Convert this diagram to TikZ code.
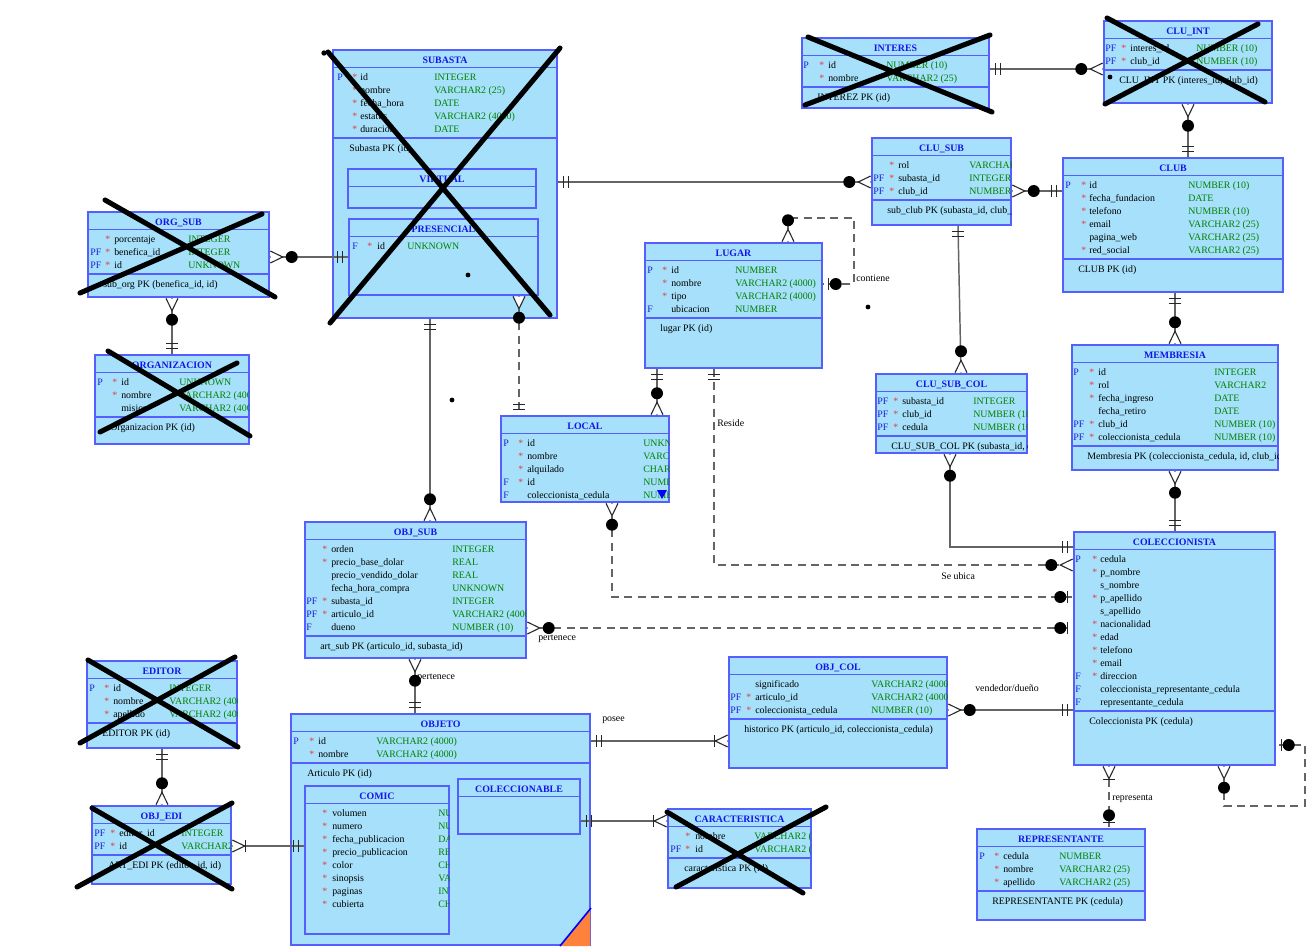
\documentclass[tikz,border=0pt]{standalone}
\usepackage{fontspec}
\setmainfont{Liberation Serif}
\usetikzlibrary{fit,calc}
\definecolor{tfill}{RGB}{166,224,250}
\definecolor{tedge}{RGB}{85,95,255}
\definecolor{ttlc}{RGB}{20,20,235}
\definecolor{flgc}{RGB}{30,30,220}
\definecolor{typc}{RGB}{0,130,0}
\definecolor{strc}{RGB}{235,60,60}
\definecolor{conc}{RGB}{100,100,100}
\definecolor{orng}{RGB}{255,130,60}
\tikzset{
 tbl/.style={draw=tedge, fill=tfill, line width=1.1pt, inner sep=0pt},
 tsep/.style={draw=tedge, line width=1.1pt},
 basetxt/.style={inner sep=0pt, anchor=base west, font=\fontsize{7.4}{8}\selectfont},
 txt/.style={basetxt, text=black},
 flg/.style={basetxt, text=flgc},
 typ/.style={basetxt, text=typc},
 strn/.style={basetxt, text=strc},
 ttl/.style={inner sep=0pt, anchor=base, font=\fontsize{7.4}{8}\selectfont\bfseries, text=ttlc},
 lbl/.style={inner sep=0pt, anchor=west, font=\fontsize{7.4}{8}\selectfont},
 conn/.style={draw=conc, line width=1.1pt},
 dconn/.style={conn, dash pattern=on 6pt off 4pt},
 deco/.style={draw=black!85, line width=0.8pt},
 xmark/.style={draw=black, line width=3.8pt, line cap=round},
 pics/crow/.style={code={\fill[white] (0.8,-5.5)--(13,0)--(0.8,5.5)--cycle; \draw[deco] (0.6,-6)--(13,0)--(0.6,6);}},
 pics/dbar/.style={code={\draw[deco] (6,-6)--(6,6) (11,-6)--(11,6);}},
 pics/sbar/.style={code={\draw[deco] (#1,-6)--(#1,6);}},
 pics/odot/.style={code={\fill[black] (#1,0) circle[radius=4.5pt];}},
}
\newcount\rowc
\newcommand\tCols[4]{\def\cF{#1}\def\cS{#2}\def\cN{#3}\def\cT{#4}}
\newcommand\tSub[6]{%
  \node[tbl, fit={(#2,#3) (#4,#5)}] (#1) {};
  \def\tY{#3}\global\rowc=0
  \begin{scope}
  \clip (#2,#3) rectangle (#4,#5);
  \draw[tsep] (#2,#3+17.5) -- (#4,#3+17.5);
  \node[ttl] at ({(#2+#4)/2},#3+13.8) {#6};
}
\newcommand\tTbl[8]{%
  \tSub{#1}{#2}{#3}{#4}{#5}{#6}%
  \draw[tsep] (#2,#3+23+13*#7) -- (#4,#3+23+13*#7);
  \node[txt] at (\cN-11,#3+36.3+13*#7) {#8};
}
\newcommand\tEnd{\end{scope}}
\newcommand\tRow[4]{%
  \global\advance\rowc by 1
  \pgfmathsetmacro\ry{\tY+30.3+13*(\the\rowc-1)}%
  \node[flg] at (\cF,\ry) {#1};
  \node[strn] at (\cS,\ry) {#2};
  \node[txt] at (\cN,\ry) {#3};
  \node[typ] at (\cT,\ry) {#4};
}
\newcommand\eCF[2]{\path #1 pic[rotate=#2]{crow}; \path #1 pic[rotate=#2]{odot=22};}
\newcommand\eDB[2]{\path #1 pic[rotate=#2]{dbar};}
\newcommand\eCB[2]{\path #1 pic[rotate=#2]{crow}; \path #1 pic[rotate=#2]{sbar=13.5};}
\newcommand\eOB[2]{\path #1 pic[rotate=#2]{sbar=6}; \path #1 pic[rotate=#2]{odot=13};}
\begin{document}
\begin{tikzpicture}[x=0.75pt,y=-0.75pt]
\fill[white] (0,0) rectangle (1308,946);
\useasboundingbox (0,0) rectangle (1308,946);

% SUBASTA
\tCols{337}{352}{360}{434}
\tTbl{subasta}{333}{50}{557}{318}{SUBASTA}{5}{Subasta PK (id)}
\tRow{P}{*}{id}{INTEGER}
\tRow{}{*}{nombre}{VARCHAR2 (25)}
\tRow{}{*}{fecha\_hora}{DATE}
\tRow{}{*}{estatus}{VARCHAR2 (4000)}
\tRow{}{*}{duracion}{DATE}
\tEnd
\tSub{virtual}{348}{169}{536}{208}{VIRTUAL}
\tEnd
\tCols{352}{367}{377}{407}
\tSub{presencial}{349}{219}{538}{295}{PRESENCIAL}
\tRow{F}{*}{id}{UNKNOWN}
\tEnd

% INTERES
\tCols{803}{819}{828}{886}
\tTbl{interes}{802}{38}{989}{108}{INTERES}{2}{INTEREZ PK (id)}
\tRow{P}{*}{id}{NUMBER (10)}
\tRow{}{*}{nombre}{VARCHAR2 (25)}
\tEnd

% CLU_INT
\tCols{1105}{1121}{1130}{1196}
\tTbl{cluint}{1104}{21}{1272}{103}{CLU\_INT}{2}{CLU\_INT PK (interes\_id, club\_id)}
\tRow{PF}{*}{interes\_id}{NUMBER (10)}
\tRow{PF}{*}{club\_id}{NUMBER (10)}
\tEnd

% CLU_SUB
\tCols{873}{889}{898}{969}
\tTbl{clusub}{872}{138}{1011}{225}{CLU\_SUB}{3}{sub\_club PK (subasta\_id, club\_id)}
\tRow{}{*}{rol}{VARCHAR2 (25)}
\tRow{PF}{*}{subasta\_id}{INTEGER}
\tRow{PF}{*}{club\_id}{NUMBER (10)}
\tEnd

% CLUB
\tCols{1065}{1081}{1089}{1188}
\tTbl{club}{1063}{158}{1283}{292}{CLUB}{6}{CLUB PK (id)}
\tRow{P}{*}{id}{NUMBER (10)}
\tRow{}{*}{fecha\_fundacion}{DATE}
\tRow{}{*}{telefono}{NUMBER (10)}
\tRow{}{*}{email}{VARCHAR2 (25)}
\tRow{}{}{pagina\_web}{VARCHAR2 (25)}
\tRow{}{*}{red\_social}{VARCHAR2 (25)}
\tEnd

% ORG_SUB
\tCols{90}{105}{114}{188}
\tTbl{orgsub}{88}{212}{269}{297}{ORG\_SUB}{3}{sub\_org PK (benefica\_id, id)}
\tRow{}{*}{porcentaje}{INTEGER}
\tRow{PF}{*}{benefica\_id}{INTEGER}
\tRow{PF}{*}{id}{UNKNOWN}
\tEnd

% ORGANIZACION
\tCols{97}{112}{121}{179}
\tTbl{organizacion}{95}{355}{249}{444}{ORGANIZACION}{3}{Organizacion PK (id)}
\tRow{P}{*}{id}{UNKNOWN}
\tRow{}{*}{nombre}{VARCHAR2 (4000)}
\tRow{}{}{mision}{VARCHAR2 (4000)}
\tEnd

% LUGAR
\tCols{647}{662}{671}{735}
\tTbl{lugar}{645}{243}{822}{368}{LUGAR}{4}{lugar PK (id)}
\tRow{P}{*}{id}{NUMBER}
\tRow{}{*}{nombre}{VARCHAR2 (4000)}
\tRow{}{*}{tipo}{VARCHAR2 (4000)}
\tRow{F}{}{ubicacion}{NUMBER}
\tEnd

% LOCAL
\tCols{503}{518}{527}{643}
\tSub{local}{501}{416}{669}{502}{LOCAL}
\tRow{P}{*}{id}{UNKNOWN}
\tRow{}{*}{nombre}{VARCHAR2 (4000)}
\tRow{}{*}{alquilado}{CHAR (1)}
\tRow{F}{*}{id}{NUMBER}
\tRow{F}{}{coleccionista\_cedula}{NUMBER (10)}
\fill[blue] (657,490) -- (667,490) -- (662,499) -- cycle;
\tEnd

% CLU_SUB_COL
\tCols{877}{893}{902}{973}
\tTbl{clusubcol}{876}{374}{1027}{453}{CLU\_SUB\_COL}{3}{CLU\_SUB\_COL PK (subasta\_id, club\_id, cedula)}
\tRow{PF}{*}{subasta\_id}{INTEGER}
\tRow{PF}{*}{club\_id}{NUMBER (10)}
\tRow{PF}{*}{cedula}{NUMBER (10)}
\tEnd

% MEMBRESIA
\tCols{1073}{1089}{1098}{1214}
\tTbl{membresia}{1072}{345}{1278}{470}{MEMBRESIA}{6}{Membresia PK (coleccionista\_cedula, id, club\_id)}
\tRow{P}{*}{id}{INTEGER}
\tRow{}{*}{rol}{VARCHAR2}
\tRow{}{*}{fecha\_ingreso}{DATE}
\tRow{}{}{fecha\_retiro}{DATE}
\tRow{PF}{*}{club\_id}{NUMBER (10)}
\tRow{PF}{*}{coleccionista\_cedula}{NUMBER (10)}
\tEnd

% OBJ_SUB
\tCols{306}{322}{331}{452}
\tTbl{objsub}{305}{522}{526}{658}{OBJ\_SUB}{7}{art\_sub PK (articulo\_id, subasta\_id)}
\tRow{}{*}{orden}{INTEGER}
\tRow{}{*}{precio\_base\_dolar}{REAL}
\tRow{}{}{precio\_vendido\_dolar}{REAL}
\tRow{}{}{fecha\_hora\_compra}{UNKNOWN}
\tRow{PF}{*}{subasta\_id}{INTEGER}
\tRow{PF}{*}{articulo\_id}{VARCHAR2 (4000)}
\tRow{F}{}{dueno}{NUMBER (10)}
\tEnd

% COLECCIONISTA
\tCols{1075}{1092}{1100}{1300}
\tTbl{coleccionista}{1074}{532}{1275}{765}{COLECCIONISTA}{12}{Coleccionista PK (cedula)}
\tRow{P}{*}{cedula}{}
\tRow{}{*}{p\_nombre}{}
\tRow{}{}{s\_nombre}{}
\tRow{}{*}{p\_apellido}{}
\tRow{}{}{s\_apellido}{}
\tRow{}{*}{nacionalidad}{}
\tRow{}{*}{edad}{}
\tRow{}{*}{telefono}{}
\tRow{}{*}{email}{}
\tRow{F}{*}{direccion}{}
\tRow{F}{}{coleccionista\_representante\_cedula}{}
\tRow{F}{}{representante\_cedula}{}
\tEnd

% OBJ_COL
\tCols{730}{746}{755}{871}
\tTbl{objcol}{729}{657}{947}{768}{OBJ\_COL}{3}{historico PK (articulo\_id, coleccionista\_cedula)}
\tRow{}{}{significado}{VARCHAR2 (4000)}
\tRow{PF}{*}{articulo\_id}{VARCHAR2 (4000)}
\tRow{PF}{*}{coleccionista\_cedula}{NUMBER (10)}
\tEnd

% EDITOR
\tCols{89}{104}{113}{169}
\tTbl{editor}{87}{661}{237}{748}{EDITOR}{3}{EDITOR PK (id)}
\tRow{P}{*}{id}{INTEGER}
\tRow{}{*}{nombre}{VARCHAR2 (4000)}
\tRow{}{*}{apellido}{VARCHAR2 (4000)}
\tEnd

% OBJ_EDI
\tCols{94}{110}{119}{181}
\tTbl{objedi}{92}{806}{231}{884}{OBJ\_EDI}{2}{ART\_EDI PK (editor\_id, id)}
\tRow{PF}{*}{editor\_id}{INTEGER}
\tRow{PF}{*}{id}{VARCHAR2 (4000)}
\tEnd

% OBJETO
\tCols{293}{309}{318}{376}
\tTbl{objeto}{291}{714}{590}{945}{OBJETO}{2}{Articulo PK (id)}
\tRow{P}{*}{id}{VARCHAR2 (4000)}
\tRow{}{*}{nombre}{VARCHAR2 (4000)}
\tEnd
\fill[orng] (560,946) -- (590,909) -- (590,946) -- cycle;
\draw[blue, line width=1.2pt] (560,946) -- (591,908);
\tCols{306}{322}{332}{438}
\tSub{comic}{305}{786}{449}{934}{COMIC}
\tRow{}{*}{volumen}{NUMBER}
\tRow{}{*}{numero}{NUMBER}
\tRow{}{*}{fecha\_publicacion}{DATE}
\tRow{}{*}{precio\_publicacion}{REAL}
\tRow{}{*}{color}{CHAR}
\tRow{}{*}{sinopsis}{VARCHAR2}
\tRow{}{*}{paginas}{INTEGER}
\tRow{}{*}{cubierta}{CHAR}
\tEnd
\tSub{coleccionable}{458}{779}{580}{834}{COLECCIONABLE}
\tEnd

% CARACTERISTICA
\tCols{670}{685}{695}{754}
\tTbl{caracteristica}{668}{809}{811}{888}{CARACTERISTICA}{2}{caracteristica PK (id)}
\tRow{}{*}{nombre}{VARCHAR2 (4000)}
\tRow{PF}{*}{id}{VARCHAR2 (4000)}
\tEnd

% REPRESENTANTE
\tCols{979}{994}{1003}{1059}
\tTbl{representante}{977}{829}{1145}{920}{REPRESENTANTE}{3}{REPRESENTANTE PK (cedula)}
\tRow{P}{*}{cedula}{NUMBER}
\tRow{}{*}{nombre}{VARCHAR2 (25)}
\tRow{}{*}{apellido}{VARCHAR2 (25)}
\tEnd

% connectors
\draw[conn] (subasta.east |- 0,182) -- (clusub.west |- 0,182);
\draw[conn] (clusub.east |- 0,191) -- (club.west |- 0,191);
\draw[conn] (interes.east |- 0,69) -- (cluint.west |- 0,69);
\draw[conn] (cluint.south -| 1188,0) -- (club.north -| 1188,0);
\draw[conn] (club.south -| 1175,0) -- (membresia.north -| 1175,0);
\draw[conn] (membresia.south -| 1175,0) -- (coleccionista.north -| 1175,0);
\draw[conn] (clusub.south -| 958,0) -- (clusubcol.north -| 961,0);
\draw[conn] (clusubcol.south -| 950,0) |- (coleccionista.west |- 0,547);
\draw[conn] (orgsub.east |- 0,257) -- (presencial.west |- 0,257);
\draw[conn] (orgsub.south -| 172,0) -- (organizacion.north -| 172,0);
\draw[conn] (subasta.south -| 430,0) -- (objsub.north -| 430,0);
\draw[conn] (objsub.south -| 415,0) -- (objeto.north -| 415,0);
\draw[dconn] (presencial.south -| 519,0) -- (local.north -| 519,0);
\draw[conn] (lugar.south -| 657,0) -- (local.north -| 657,0);
\draw[dconn] (lugar.south -| 714,0) |- (coleccionista.west |- 0,565);
\draw[dconn] (local.south -| 612,0) |- (coleccionista.west |- 0,597);
\draw[dconn] (objsub.east |- 0,628) -- (coleccionista.west |- 0,628);
\draw[conn] (objeto.east |- 0,741) -- (objcol.west |- 0,741);
\draw[conn] (objcol.east |- 0,710) -- (coleccionista.west |- 0,710);
\draw[conn] (editor.south -| 162,0) -- (objedi.north -| 162,0);
\draw[conn] (objedi.east |- 0,846) -- (comic.west |- 0,846);
\draw[conn] (coleccionable.east |- 0,821) -- (caracteristica.west |- 0,821);
\draw[dconn] (coleccionista.south -| 1109,0) -- (representante.north -| 1109,0);
\draw[dconn] (coleccionista.south -| 1224,0) -- (1224,806) -- (1305,806) -- (1305,745) -- (coleccionista.east |- 0,745);
\draw[dconn] (lugar.north -| 788,0) -- (788,218) -- (854,218) -- (854,284) -- (lugar.east |- 0,284);

% labels
\node[lbl] (lcont) at (856,278) {contiene};
\node[lbl] (lres) at (717,423) {Reside};
\node[lbl] (lubi) at (941,576) {Se ubica};
\node[lbl] (lper1) at (538,639) {pertenece};
\node[lbl] (lper2) at (417,678) {pertenece};
\node[lbl] (lpos) at (602,720) {posee};
\node[lbl] (lven) at (975,688) {vendedor/dueño};
\node[lbl] (lrep) at (1112,799) {representa};

% ends
\eDB{(subasta.east |- 0,182)}{0}
\eCF{(clusub.west |- 0,182)}{180}
\eCF{(clusub.east |- 0,191)}{0}
\eDB{(club.west |- 0,191)}{180}
\eDB{(interes.east |- 0,69)}{0}
\eCF{(cluint.west |- 0,69)}{180}
\eCF{(cluint.south -| 1188,0)}{-90}
\eDB{(club.north -| 1188,0)}{90}
\eDB{(club.south -| 1175,0)}{-90}
\eCF{(membresia.north -| 1175,0)}{90}
\eCF{(membresia.south -| 1175,0)}{-90}
\eDB{(coleccionista.north -| 1175,0)}{90}
\eDB{(clusub.south -| 958,0)}{-90}
\eCF{(clusubcol.north -| 961,0)}{90}
\eCF{(clusubcol.south -| 950,0)}{-90}
\eDB{(coleccionista.west |- 0,547)}{180}
\eCF{(orgsub.east |- 0,257)}{0}
\eDB{(presencial.west |- 0,257)}{180}
\eCF{(orgsub.south -| 172,0)}{-90}
\eDB{(organizacion.north -| 172,0)}{90}
\eDB{(subasta.south -| 430,0)}{-90}
\eCF{(objsub.north -| 430,0)}{90}
\eCF{(objsub.south -| 415,0)}{-90}
\eDB{(objeto.north -| 415,0)}{90}
\eCF{(presencial.south -| 519,0)}{-90}
\eDB{(local.north -| 519,0)}{90}
\eDB{(lugar.south -| 657,0)}{-90}
\eCF{(local.north -| 657,0)}{90}
\eDB{(lugar.south -| 714,0)}{-90}
\eCF{(coleccionista.west |- 0,565)}{180}
\eCF{(local.south -| 612,0)}{-90}
\eOB{(coleccionista.west |- 0,597)}{180}
\eCF{(objsub.east |- 0,628)}{0}
\eOB{(coleccionista.west |- 0,628)}{180}
\eDB{(objeto.east |- 0,741)}{0}
\eCB{(objcol.west |- 0,741)}{180}
\eCF{(objcol.east |- 0,710)}{0}
\eDB{(coleccionista.west |- 0,710)}{180}
\eDB{(editor.south -| 162,0)}{-90}
\eCF{(objedi.north -| 162,0)}{90}
\eCB{(objedi.east |- 0,846)}{0}
\eDB{(comic.west |- 0,846)}{180}
\eDB{(coleccionable.east |- 0,821)}{0}
\eCB{(caracteristica.west |- 0,821)}{180}
\eCB{(coleccionista.south -| 1109,0)}{-90}
\eOB{(representante.north -| 1109,0)}{90}
\eCF{(coleccionista.south -| 1224,0)}{-90}
\eOB{(coleccionista.east |- 0,745)}{0}
\eCF{(lugar.north -| 788,0)}{90}
\eOB{(lugar.east |- 0,284)}{0}

% crosses
\draw[xmark] (328,52) -- (550,315) (560,48) -- (330,323);
\draw[xmark] (808,37) -- (992,112) (990,35) -- (805,105);
\draw[xmark] (1107,18) -- (1265,102) (1258,24) -- (1105,104);
\draw[xmark] (105,200) -- (275,297) (262,214) -- (80,293);
\draw[xmark] (108,351) -- (250,436) (237,363) -- (100,432);
\draw[xmark] (88,660) -- (238,747) (235,657) -- (80,743);
\draw[xmark] (92,808) -- (232,889) (232,803) -- (77,887);
\draw[xmark] (667,812) -- (803,893) (826,807) -- (676,887);

% stray dots
\fill (324,53) circle[radius=2pt];
\fill (468,275) circle[radius=1.8pt];
\fill (868,307) circle[radius=1.8pt];
\fill (452,400) circle[radius=1.8pt];
\fill (1110,77) circle[radius=1.8pt];
\end{tikzpicture}
\end{document}
